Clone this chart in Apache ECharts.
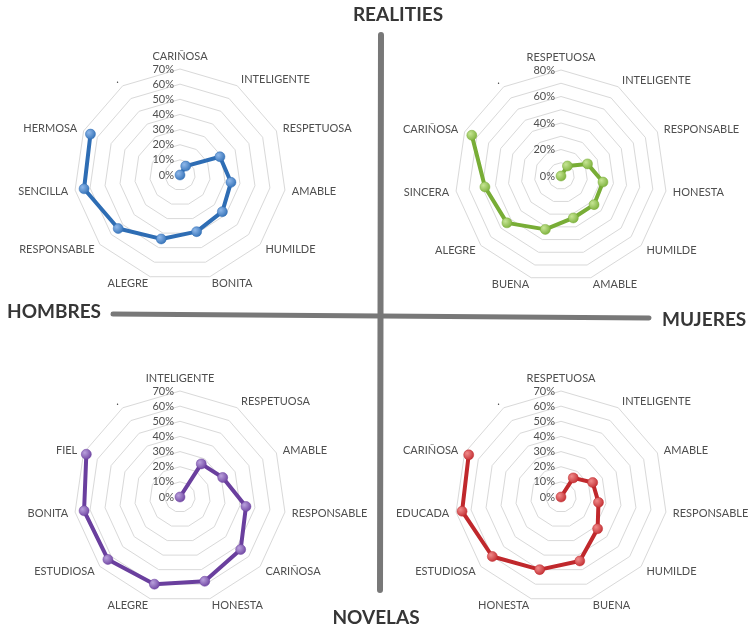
<!DOCTYPE html>
<html>
<head>
<meta charset="utf-8">
<script src="https://cdn.jsdelivr.net/npm/echarts@6/dist/echarts.min.js"></script>
<style>
  html, body { margin: 0; padding: 0; background: #fff; }
  #chart { width: 750px; height: 630px; }
</style>
</head>
<body>
<div id="chart"></div>
<script>
let page = document.getElementById('chart');
let myChart = echarts.init(page);

// names go clockwise from the top, like the original spreadsheet
const hombresRealNames = ['CARIÑOSA', 'INTELIGENTE', 'RESPETUOSA', 'AMABLE', 'HUMILDE', 'BONITA', 'ALEGRE', 'RESPONSABLE', 'SENCILLA', 'HERMOSA', '.'];
const hombresRealValues = [0, 7, 29, 34, 37, 39, 44, 54, 64, 65, null];

const mujeresRealNames = ['RESPETUOSA', 'INTELIGENTE', 'RESPONSABLE', 'HONESTA', 'HUMILDE', 'AMABLE', 'BUENA', 'ALEGRE', 'SINCERA', 'CARIÑOSA', '.'];
const mujeresRealValues = [0, 9, 22, 32, 33, 33, 42, 54, 58, 74, null];

const hombresNovNames = ['INTELIGENTE', 'RESPETUOSA', 'AMABLE', 'RESPONSABLE', 'CARIÑOSA', 'HONESTA', 'ALEGRE', 'ESTUDIOSA', 'BONITA', 'FIEL', '.'];
const hombresNovValues = [0, 26, 31, 44, 53, 58, 60, 63, 64, 68, null];

const mujeresNovNames = ['RESPETUOSA', 'INTELIGENTE', 'AMABLE', 'RESPONSABLE', 'HUMILDE', 'BUENA', 'HONESTA', 'ESTUDIOSA', 'EDUCADA', 'CARIÑOSA', '.'];
const mujeresNovValues = [0, 15, 23, 25, 32, 44, 50, 60, 66, 67, null];

const axisMax = [70, 80, 70, 70];
const labelStep = [10, 20, 10, 10];

const font = 'Lato, "Open Sans", sans-serif';

const panels = [
    { names: hombresRealNames, values: hombresRealValues, center: [180, 175], color: '#2e6db4', light: '#8fb8ea' },
    { names: mujeresRealNames, values: mujeresRealValues, center: [561, 176], color: '#78ad36', light: '#c6e594' },
    { names: hombresNovNames, values: hombresNovValues, center: [180, 497], color: '#6a3f9e', light: '#b9a0dc' },
    { names: mujeresNovNames, values: mujeresNovValues, center: [561, 497], color: '#c0282c', light: '#f08a8a' }
];

let radars = [];
let polars = [];
let angleAxes = [];
let radiusAxes = [];
let seriesList = [];

panels.forEach((p, i) => {
    let max = axisMax[i];
    let step = labelStep[i];
    // echarts radar runs counter-clockwise, so flip the order after the first axis
    let ordered = [p.names[0]].concat(p.names.slice(1).reverse());
    let indicator = ordered.map((name, k) => {
        let ind = { name: name, min: 0, max: max };
        if (k === 0) {
            ind.axisLabel = {
                show: true,
                color: '#4f4f4f',
                fontSize: 11,
                fontFamily: font,
                margin: 6,
                formatter: function (v) {
                    return v % step === 0 ? v + '%' : '';
                }
            };
        }
        return ind;
    });

    radars.push({
        center: p.center,
        radius: 106,
        startAngle: 90,
        shape: 'polygon',
        splitNumber: max / 10,
        indicator: indicator,
        nameGap: 7,
        axisName: { color: '#4f4f4f', fontSize: 11, fontFamily: font },
        axisLine: { show: false },
        axisTick: { show: false },
        axisLabel: { show: false },
        splitLine: { lineStyle: { color: '#d9d9d9', width: 1 } },
        splitArea: { show: false }
    });

    polars.push({ center: p.center, radius: 106 });
    angleAxes.push({
        polarIndex: i,
        type: 'category',
        data: p.names,
        boundaryGap: false,
        startAngle: 90,
        clockwise: true,
        axisLine: { show: false },
        axisTick: { show: false },
        axisLabel: { show: false },
        splitLine: { show: false }
    });
    radiusAxes.push({
        polarIndex: i,
        min: 0,
        max: max,
        axisLine: { show: false },
        axisTick: { show: false },
        axisLabel: { show: false },
        splitLine: { show: false }
    });

    seriesList.push({
        type: 'line',
        coordinateSystem: 'polar',
        polarIndex: i,
        data: p.values,
        connectNulls: false,
        symbol: 'circle',
        symbolSize: 10,
        showAllSymbol: true,
        lineStyle: { color: p.color, width: 4 },
        itemStyle: {
            color: {
                type: 'radial', x: 0.35, y: 0.35, r: 0.75,
                colorStops: [{ offset: 0, color: p.light }, { offset: 1, color: p.color }]
            },
            borderColor: p.color,
            borderWidth: 0.5
        },
        z: 3
    });
});

const bigText = { fontFamily: font, fontWeight: 'bold', fontSize: 19, fill: '#363636' };

let option = {
    backgroundColor: '#ffffff',
    animation: false,
    radar: radars,
    polar: polars,
    angleAxis: angleAxes,
    radiusAxis: radiusAxes,
    series: seriesList,
    graphic: [
        { type: 'line', shape: { x1: 381, y1: 35, x2: 380, y2: 590 }, style: { stroke: '#787878', lineWidth: 6, lineCap: 'round' }, z: 1 },
        { type: 'line', shape: { x1: 113, y1: 314, x2: 649, y2: 318 }, style: { stroke: '#787878', lineWidth: 5, lineCap: 'round' }, z: 1 },
        { type: 'text', x: 398, y: 15, style: Object.assign({ text: 'REALITIES', align: 'center', verticalAlign: 'middle' }, bigText) },
        { type: 'text', x: 7, y: 312, style: Object.assign({ text: 'HOMBRES', align: 'left', verticalAlign: 'middle' }, bigText) },
        { type: 'text', x: 662, y: 320, style: Object.assign({ text: 'MUJERES', align: 'left', verticalAlign: 'middle' }, bigText) },
        { type: 'text', x: 376, y: 618, style: Object.assign({ text: 'NOVELAS', align: 'center', verticalAlign: 'middle' }, bigText) }
    ]
};

myChart.setOption(option);
</script>
</body>
</html>
